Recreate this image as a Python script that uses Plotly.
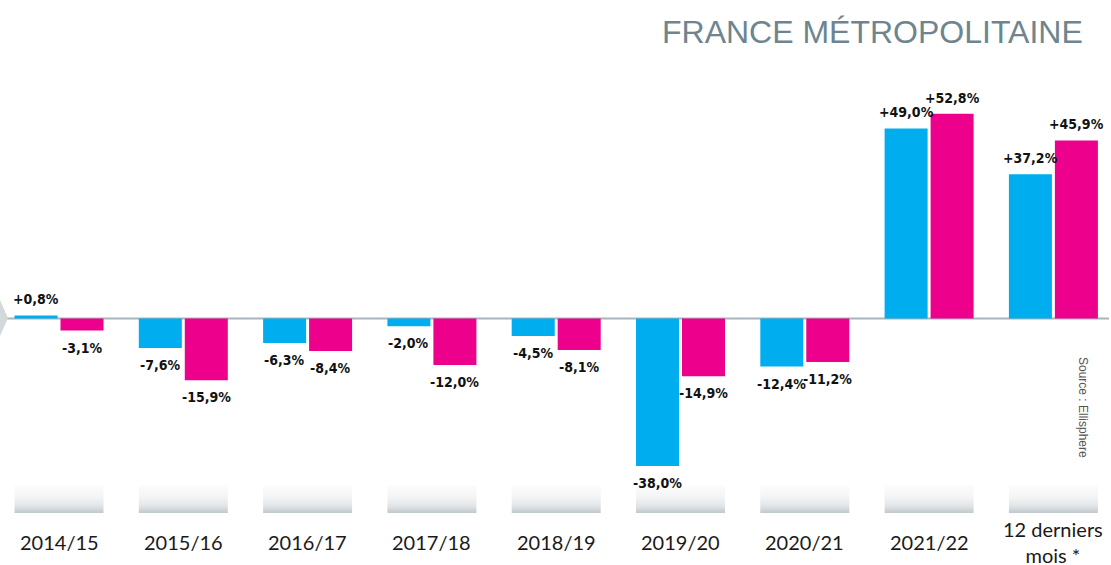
import plotly.graph_objects as go

# ---- data ----
categories = ["2014/15", "2015/16", "2016/17", "2017/18", "2018/19",
              "2019/20", "2020/21", "2021/22", "12 derniers<br>mois *"]
series_blue = [0.8, -7.6, -6.3, -2.0, -4.5, -38.0, -12.4, 49.0, 37.2]
series_pink = [-3.1, -15.9, -8.4, -12.0, -8.1, -14.9, -11.2, 52.8, 45.9]
title_text = "FRANCE MÉTROPOLITAINE"
source_text = "Source : Ellisphere"

BLUE = "#00AEEF"
PINK = "#EC008C"

W, H = 1111, 565
zero_px = 318.5
scale = 3.88  # px per %
ymax = zero_px / scale
ymin = -(H - zero_px) / scale
first_center = 59.0
spacing = 124.3
xr = [-first_center / spacing, (W - first_center) / spacing]

bw = 0.346
gap = 0.012
xs = list(range(len(categories)))

def fmt(v):
    return f"{v:+.1f}".replace(".", ",") + "%"

fig = go.Figure()

# gradient boxes under each group
box_top = (zero_px - 485) / scale
box_bot = (zero_px - 513) / scale
bx, by = [], []
for i in xs:
    l, r = i - bw - gap, i + bw + gap
    bx += [l, r, r, l, l, None]
    by += [box_bot, box_bot, box_top, box_top, box_bot, None]
fig.add_trace(go.Scatter(
    x=bx, y=by, mode="lines", fill="toself", line=dict(width=0),
    fillgradient=dict(type="vertical", start=box_bot, stop=box_top,
                      colorscale=[[0, "#c0c8cc"], [0.25, "#e2e5e7"], [0.6, "#f4f5f6"], [1, "#fcfcfc"]]),
    hoverinfo="skip", showlegend=False))

fig.add_trace(go.Bar(x=xs, y=series_blue, width=bw, offset=-bw - gap,
                     marker=dict(color=BLUE, line=dict(width=0)), showlegend=False))
fig.add_trace(go.Bar(x=xs, y=series_pink, width=bw, offset=gap,
                     marker=dict(color=PINK, line=dict(width=0)), showlegend=False))

annotations = []
for i in xs:
    for vals, cx in ((series_blue, i - bw / 2 - gap), (series_pink, i + bw / 2 + gap)):
        v = vals[i]
        annotations.append(dict(
            x=cx, y=v, text=f"<b>{fmt(v)}</b>", showarrow=False,
            xanchor="center", yanchor="bottom" if v >= 0 else "top",
            yshift=6 if v >= 0 else -7,
            font=dict(family="DejaVu Sans Condensed", size=14, color="#111111")))
    # category labels
    cy = (zero_px - 542) / scale
    annotations.append(dict(
        x=i, y=cy, text=categories[i], showarrow=False,
        xanchor="center", yanchor="middle",
        font=dict(family="Lato", size=20, color="#1a1a1a")))

annotations.append(dict(
    x=1085 / W, y=1 - 32 / H, xref="paper", yref="paper", text=title_text,
    showarrow=False, xanchor="right", yanchor="middle",
    font=dict(family="Liberation Sans", size=32, color="#6E858F")))
annotations.append(dict(
    x=1083 / W, y=1 - 407 / H, xref="paper", yref="paper", text=source_text,
    showarrow=False, textangle=90, xanchor="center", yanchor="middle",
    font=dict(family="Liberation Sans", size=12, color="#555555")))

shapes = [
    dict(type="line", xref="paper", yref="y", x0=0, x1=1109 / W, y0=0, y1=0,
         line=dict(color="#A9B5BA", width=2), layer="below"),
    dict(type="path", xref="paper", yref="paper",
         path=f"M 0 {1 - 300 / H} L {8 / W} {1 - 318 / H} L 0 {1 - 336 / H} Z",
         fillcolor="#D3D8DA", line=dict(width=0)),
]

fig.update_layout(
    width=W, height=H, margin=dict(l=0, r=0, t=0, b=0),
    paper_bgcolor="white", plot_bgcolor="white",
    barmode="overlay",
    xaxis=dict(range=xr, visible=False, fixedrange=True),
    yaxis=dict(range=[ymin, ymax], visible=False, fixedrange=True),
    annotations=annotations, shapes=shapes,
)
fig.write_html("out.html", config={"displayModeBar": False},
               post_script="document.body.style.margin='0';document.body.style.overflow='hidden';")
